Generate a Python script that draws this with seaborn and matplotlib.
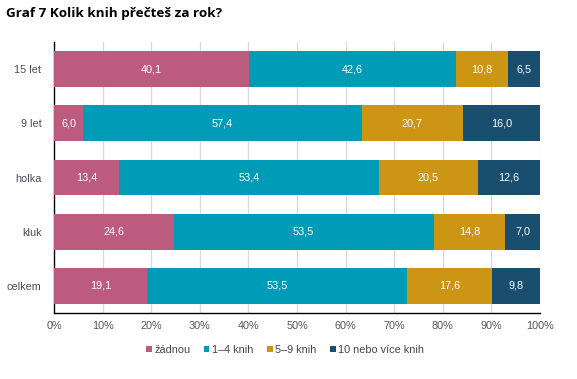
import matplotlib
matplotlib.use("Agg")
import matplotlib.pyplot as plt
import seaborn as sns
import numpy as np
import pandas as pd
from matplotlib.patches import Patch

categories = ["15 let", "9 let", "holka", "kluk", "celkem"]
series_names = ["žádnou", "1–4 knih", "5–9 knih", "10 nebo více knih"]
zadnou = [40.1, 6.0, 13.4, 24.6, 19.1]
knih_1_4 = [42.6, 57.4, 53.4, 53.5, 53.5]
knih_5_9 = [10.8, 20.7, 20.5, 14.8, 17.6]
knih_10 = [6.5, 16.0, 12.6, 7.0, 9.8]
tick_labels = ["0%", "10%", "20%", "30%", "40%", "50%", "60%", "70%", "80%", "90%", "100%"]

colors = ["#BC5B7E", "#009BB7", "#CC9514", "#1A4E6E"]

sns.set_theme(style="white")
plt.rcParams["font.family"] = ["Liberation Sans", "DejaVu Sans"]

series = [zadnou, knih_1_4, knih_5_9, knih_10]
vals = np.array(series)
cum = np.cumsum(vals, axis=0)

fig = plt.figure(figsize=(5.77, 3.79), dpi=100)
ax = fig.add_axes([54 / 577, 1 - 313 / 379, (540 - 54) / 577, (313 - 42) / 379])

for i in range(3, -1, -1):
    df = pd.DataFrame({"cat": categories, "val": cum[i]})
    sns.barplot(data=df, y="cat", x="val", color=colors[i], orient="h",
                width=0.66, ax=ax, saturation=1, linewidth=0, zorder=3)

for i in range(4):
    starts = cum[i] - vals[i]
    for j, c in enumerate(categories):
        ax.text(starts[j] + vals[i][j] / 2, j, f"{vals[i][j]:.1f}".replace(".", ","),
                ha="center", va="center", color="white", fontsize=7.8, zorder=5)

ax.set_xlim(0, 100)
ax.set_ylim(4.5, -0.5)
ax.set_xticks(np.arange(0, 101, 10))
ax.set_xticklabels(tick_labels, color="#555555", fontsize=7.8)
ax.tick_params(axis="x", length=0, pad=6)
ax.tick_params(axis="y", length=0, pad=9, labelsize=7.8, labelcolor="#4a4a55")
ax.set_xlabel("")
ax.set_ylabel("")
ax.grid(axis="x", color="#d9d9d9", linewidth=0.9, zorder=0)
ax.set_axisbelow(True)
for s in ["top", "right"]:
    ax.spines[s].set_visible(False)
for s in ["left", "bottom"]:
    ax.spines[s].set_color("black")
    ax.spines[s].set_linewidth(1.0)

fig.text(6 / 577, 1 - 13 / 379, "Graf 7 Kolik knih přečteš za rok?", fontsize=9.7,
         fontweight="bold", color="black", va="center", ha="left",
         family=["Open Sans", "DejaVu Sans"])

handles = [Patch(facecolor=colors[i], edgecolor="none", label=series_names[i]) for i in range(4)]
fig.legend(handles=handles, loc="center", bbox_to_anchor=(285 / 577, 1 - 350 / 379),
           ncol=4, frameon=False, fontsize=7.8, handlelength=0.55, handleheight=0.55,
           handletextpad=0.25, columnspacing=1.2, labelcolor="#444444")

fig.savefig("out.png", dpi=100)
